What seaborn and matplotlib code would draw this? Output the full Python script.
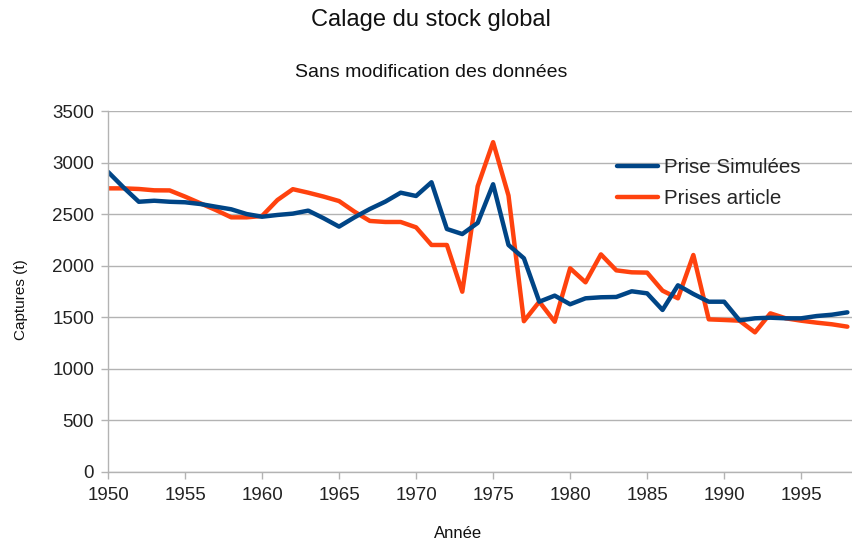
import matplotlib
matplotlib.use("Agg")
import matplotlib.pyplot as plt
import seaborn as sns
import pandas as pd
import numpy as np

years = list(range(1950, 1999))
prise_simulees = [2910, 2760, 2620, 2630, 2620, 2615, 2598, 2572, 2547, 2501,
                  2475, 2492, 2505, 2534, 2460, 2379, 2469, 2550, 2621, 2708,
                  2676, 2809, 2356, 2307, 2415, 2790, 2201, 2072, 1651, 1710,
                  1626, 1684, 1694, 1697, 1752, 1732, 1571, 1810, 1726, 1651,
                  1651, 1470, 1490, 1496, 1490, 1490, 1512, 1525, 1548]
prises_article = [2750, 2750, 2744, 2731, 2730, 2670, 2605, 2540, 2469, 2469,
                  2482, 2637, 2742, 2708, 2670, 2627, 2524, 2434, 2424, 2424,
                  2372, 2201, 2201, 1748, 2770, 3198, 2680, 1462, 1651, 1457,
                  1975, 1839, 2110, 1955, 1936, 1933, 1758, 1684, 2104, 1480,
                  1474, 1467, 1354, 1538, 1490, 1467, 1448, 1432, 1409]
series_names = ["Prise Simulées", "Prises article"]
yticks = [0, 500, 1000, 1500, 2000, 2500, 3000, 3500]
xticks = [1950, 1955, 1960, 1965, 1970, 1975, 1980, 1985, 1990, 1995]

df = pd.DataFrame({
    "Année": years * 2,
    "Captures": prise_simulees + prises_article,
    "Série": [series_names[0]] * len(years) + [series_names[1]] * len(years),
})

sns.set_style("white")
plt.rcParams['font.family'] = ['Liberation Sans', 'DejaVu Sans']

fig = plt.figure(figsize=(8.52, 5.4), dpi=100)
ax = fig.add_axes([108/852, 68/540, (852-108)/852, (472-111)/540])

palette = {series_names[0]: "#004586", series_names[1]: "#ff420e"}
sns.lineplot(data=df, x="Année", y="Captures", hue="Série", hue_order=series_names[::-1],
             palette=palette, linewidth=3.2, ax=ax, legend=False, sort=False)

ax.set_xlim(1950, 1998.3)
ax.set_ylim(0, 3500)
ax.set_xticks(xticks)
ax.set_yticks(yticks)
ax.set_xticklabels([str(t) for t in xticks], fontsize=13.5, color="#222222")
ax.set_yticklabels([str(t) for t in yticks], fontsize=13.5, color="#222222")
ax.grid(axis="y", color="#b3b3b3", linewidth=1)
ax.grid(axis="x", visible=False)
ax.set_axisbelow(True)
for s in ["top", "right"]:
    ax.spines[s].set_visible(False)
for s in ["left", "bottom"]:
    ax.spines[s].set_color("#b3b3b3")
    ax.spines[s].set_linewidth(1)
ax.tick_params(axis="both", which="major", length=5, width=1, color="#b3b3b3",
               direction="out", left=True, bottom=True)
ax.tick_params(axis="x", pad=6)
ax.tick_params(axis="y", pad=5)
ax.set_xlabel("")
ax.set_ylabel("")

# legend
from matplotlib.lines import Line2D
handles = [Line2D([0], [0], color=palette[n], linewidth=3.2) for n in series_names]
leg = ax.legend(handles, series_names, loc="upper left", bbox_to_anchor=(0.673, 0.893),
                frameon=False, fontsize=14.8, handlelength=2.0, handletextpad=0.3,
                labelspacing=0.6, borderaxespad=0)

fig.text(0.506, 0.963, "Calage du stock global", ha="center", va="center",
         fontsize=17, color="#111111")
fig.text(0.506, 0.866, "Sans modification des données", ha="center", va="center",
         fontsize=14, color="#111111")
fig.text(0.025, (540-300)/540, "Captures (t)", rotation=90, ha="center", va="center",
         fontsize=11, color="#111111")
fig.text(458/852, 1 - 533/540, "Année", ha="center", va="center",
         fontsize=12, color="#111111")

fig.savefig("out.png", dpi=100)
